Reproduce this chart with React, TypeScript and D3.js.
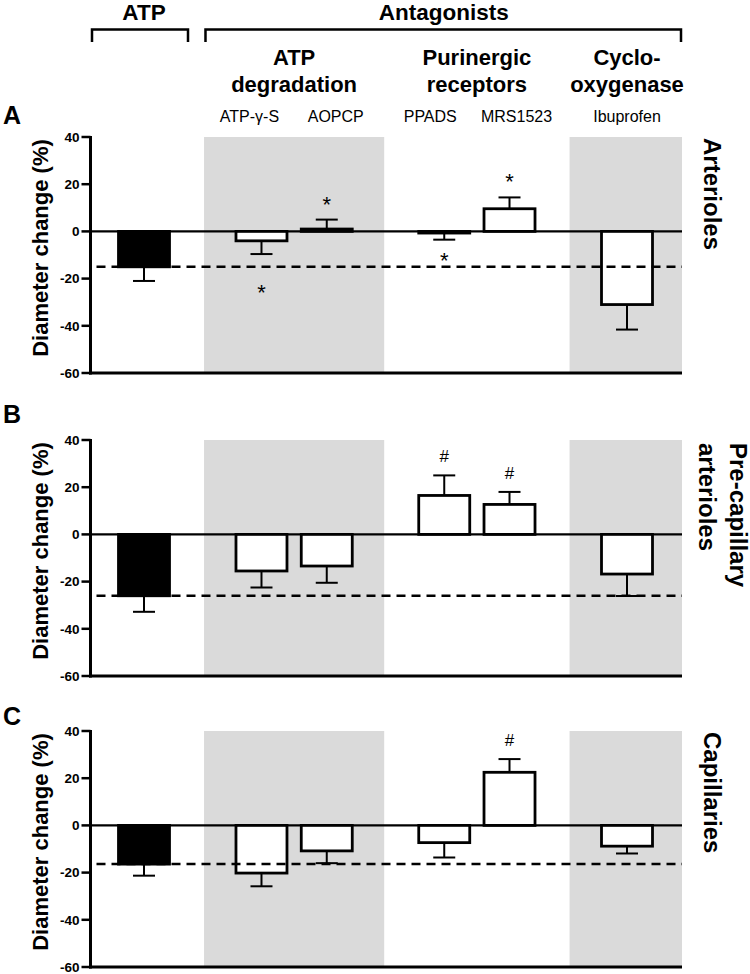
import React from "react";
import * as d3 from "d3";

// ---------- data ----------
const categories = ["ATP", "ATP-γ-S", "AOPCP", "PPADS", "MRS1523", "Ibuprofen"];
const groupIndex = [0, 1, 1, 2, 2, 3];
const groupTitles = [["ATP"], ["ATP", "degradation"], ["Purinergic", "receptors"], ["Cyclo-", "oxygenase"]];
const shadedGroups = [1, 3];

const arteriolesMean = [-15, -4, 1, -0.7, 9.6, -31];
const arteriolesSem = [6, 5.6, 4, 2.8, 4.8, 10.6];
const arteriolesMark = ["", "*", "*", "*", "*", ""];
const arteriolesMarkAt = [0, -24, 13.5, -10.5, 23, 0];

const precapMean = [-26, -15.5, -13.4, 16.5, 12.7, -16.8];
const precapSem = [6.8, 7, 7.1, 8.5, 5.3, 9.3];
const precapMark = ["", "", "", "#", "#", ""];
const precapMarkAt = [0, 0, 0, 33.2, 26, 0];

const capMean = [-16.4, -20.2, -10.8, -7.3, 22.5, -8.8];
const capSem = [4.9, 5.6, 5.2, 6.3, 5.6, 3.1];
const capMark = ["", "", "", "", "#", ""];
const capMarkAt = [0, 0, 0, 0, 36, 0];

const yTicks = [40, 20, 0, -20, -40, -60];
const panelLetters = ["A", "B", "C"];
const panelNames = [["Arterioles"], ["Pre-capillary", "arterioles"], ["Capillaries"]];

// ---------- layout ----------
const W = 750;
const H = 974;
const PANEL_TOP = [137, 440, 731];
const PANEL_H = 236;
const LETTER_BASE = [124, 423, 725];
const AXIS_X = 90.5;
const FONT = "'Liberation Sans', Arial, sans-serif";

const slot = categories.map((_, i) => i + 0.8 * groupIndex[i]);
const x = d3.scaleLinear().domain([0, d3.max(slot) as number]).range([144, 627]);
const unit = x(1) - x(0);
const barW = 51;
const AXIS_END = x(slot[slot.length - 1]) + 55;

const panels = [
  { mean: arteriolesMean, sem: arteriolesSem, mark: arteriolesMark, markAt: arteriolesMarkAt },
  { mean: precapMean, sem: precapSem, mark: precapMark, markAt: precapMarkAt },
  { mean: capMean, sem: capSem, mark: capMark, markAt: capMarkAt },
];

function groupExtent(g: number) {
  const idx = categories.map((_, i) => i).filter((i) => groupIndex[i] === g);
  const xs = idx.map((i) => x(slot[i]));
  return [d3.min(xs) as number, d3.max(xs) as number];
}

function Panel({ p, k }: { p: (typeof panels)[number]; k: number }) {
  const top = PANEL_TOP[k];
  const y = d3.scaleLinear().domain([-60, 40]).range([top + PANEL_H, top]);
  const y0 = y(0);
  return (
    <g>
      {shadedGroups.map((g) => {
        const [a, b] = groupExtent(g);
        const x1 = a - unit * 0.88;
        const x2 = Math.min(b + unit * 0.88, AXIS_END);
        return <rect key={g} x={x1} y={y(40)} width={x2 - x1} height={y(-60) - y(40)} fill="#dadada" />;
      })}
      {/* zero line */}
      <line x1={AXIS_X} x2={AXIS_END} y1={y0} y2={y0} stroke="#000" strokeWidth={2.3} />
      {/* error bars */}
      {p.mean.map((m, i) => {
        const cx = x(slot[i]);
        const end = m >= 0 ? m + p.sem[i] : m - p.sem[i];
        return (
          <g key={"e" + i}>
            <line x1={cx} x2={cx} y1={y(m)} y2={y(end)} stroke="#000" strokeWidth={2} />
            <line x1={cx - 11} x2={cx + 11} y1={y(end)} y2={y(end)} stroke="#000" strokeWidth={2} />
          </g>
        );
      })}
      {/* bars */}
      {p.mean.map((m, i) => {
        const cx = x(slot[i]);
        const ya = Math.min(y(m), y0);
        const hh = Math.abs(y(m) - y0);
        return (
          <rect
            key={"b" + i}
            x={cx - barW / 2}
            y={ya}
            width={barW}
            height={hh}
            fill={i === 0 ? "#000" : "#fff"}
            stroke="#000"
            strokeWidth={2.8}
          />
        );
      })}
      {/* dashed reference = ATP mean */}
      <line
        x1={AXIS_X + 2}
        x2={AXIS_END}
        y1={y(p.mean[0])}
        y2={y(p.mean[0])}
        stroke="#000"
        strokeWidth={2.5}
        strokeDasharray="9,6"
        strokeDashoffset={-4}
      />
      {/* marks */}
      {p.mark.map((s, i) =>
        s ? (
          <text
            key={"m" + i}
            x={x(slot[i])}
            y={y(p.markAt[i]) + (s === "*" ? 12 : 6)}
            textAnchor="middle"
            fontFamily={FONT}
            fontSize={s === "*" ? 22 : 17}
          >
            {s}
          </text>
        ) : null
      )}
      {/* axes */}
      <line x1={AXIS_X} x2={AXIS_X} y1={y(40) - 1} y2={y(-60) + 1.5} stroke="#000" strokeWidth={3} />
      <line x1={AXIS_X - 1.5} x2={AXIS_END} y1={y(-60)} y2={y(-60)} stroke="#000" strokeWidth={3} />
      {yTicks.map((t) => (
        <g key={t}>
          <line x1={AXIS_X - 9} x2={AXIS_X} y1={y(t)} y2={y(t)} stroke="#000" strokeWidth={2.5} />
          <text
            x={AXIS_X - 11}
            y={y(t)}
            dy="0.36em"
            textAnchor="end"
            fontFamily={FONT}
            fontWeight="bold"
            fontSize={13.5}
          >
            {t}
          </text>
        </g>
      ))}
      <text
        transform={`translate(40,${top + 111}) rotate(-90)`}
        textAnchor="middle"
        dominantBaseline="central"
        fontFamily={FONT}
        fontWeight="bold"
        fontSize={22}
      >
        Diameter change (%)
      </text>
      <text x={3} y={LETTER_BASE[k]} fontFamily={FONT} fontWeight="bold" fontSize={25}>
        {panelLetters[k]}
      </text>
      {panelNames[k].map((s, j) => {
        const n = panelNames[k].length;
        const cx = n === 1 ? 712 : j === 0 ? 738 : 707;
        return (
          <text
            key={s}
            transform={`translate(${cx},${top + (n === 1 ? 1 : 3)}) rotate(90)`}
            textAnchor="start"
            dominantBaseline="central"
            fontFamily={FONT}
            fontWeight="bold"
            fontSize={24}
          >
            {s}
          </text>
        );
      })}
    </g>
  );
}

export default function App() {
  const labelOffsets = [0, -12, 9, -14, 7, 0];
  const atpX = x(slot[0]);
  const antA = x(slot[1]) - 56;
  const bracketY = 29.5;
  return (
    <svg
      width={W}
      height={H}
      viewBox={`0 0 ${W} ${H}`}
      style={{ position: "absolute", left: 0, top: 0, background: "#fff" }}
    >
      <rect x={0} y={0} width={W} height={H} fill="#fff" />
      {/* top headers */}
      <text x={atpX} y={20} textAnchor="middle" fontFamily={FONT} fontWeight="bold" fontSize={22.5}>
        ATP
      </text>
      <text x={(antA + AXIS_END) / 2} y={20} textAnchor="middle" fontFamily={FONT} fontWeight="bold" fontSize={22.5}>
        Antagonists
      </text>
      <path
        d={`M${atpX - 52},${bracketY + 12.5}V${bracketY}H${atpX + 44}V${bracketY + 12.5}`}
        fill="none"
        stroke="#000"
        strokeWidth={2.5}
      />
      <path
        d={`M${antA},${bracketY + 12.5}V${bracketY}H${AXIS_END - 1}V${bracketY + 12.5}`}
        fill="none"
        stroke="#000"
        strokeWidth={2.5}
      />
      {groupTitles.map((lines, g) => {
        if (g === 0) return null;
        const [a, b] = groupExtent(g);
        return (
          <text
            key={g}
            x={(a + b) / 2}
            textAnchor="middle"
            fontFamily={FONT}
            fontWeight="bold"
            fontSize={22}
          >
            {lines.map((l, j) => (
              <tspan key={j} x={(a + b) / 2} y={65 + j * 27}>
                {l}
              </tspan>
            ))}
          </text>
        );
      })}
      {categories.map((c, i) =>
        i === 0 ? null : (
          <text
            key={c}
            x={x(slot[i]) + labelOffsets[i]}
            y={121.5}
            textAnchor="middle"
            fontFamily={FONT}
            fontSize={16}
          >
            {c}
          </text>
        )
      )}
      {panels.map((p, k) => (
        <Panel key={k} p={p} k={k} />
      ))}
    </svg>
  );
}
